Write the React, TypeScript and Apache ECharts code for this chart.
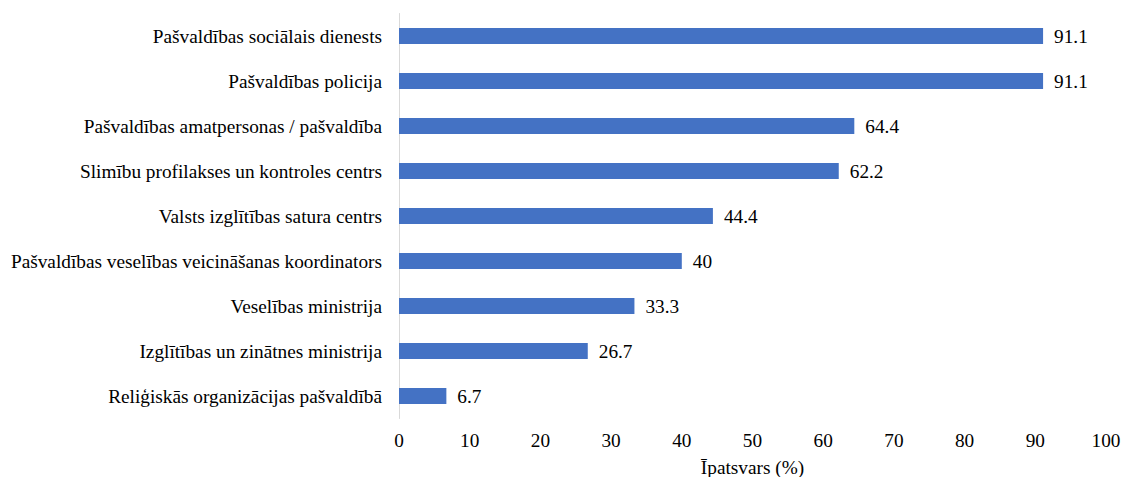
import React, { useEffect, useRef } from "react";
import * as echarts from "echarts";

const categories = [
  "Pašvaldības sociālais dienests",
  "Pašvaldības policija",
  "Pašvaldības amatpersonas / pašvaldība",
  "Slimību profilakses un kontroles centrs",
  "Valsts izglītības satura centrs",
  "Pašvaldības veselības veicināšanas koordinators",
  "Veselības ministrija",
  "Izglītības un zinātnes ministrija",
  "Reliģiskās organizācijas pašvaldībā",
];
const values = [91.1, 91.1, 64.4, 62.2, 44.4, 40, 33.3, 26.7, 6.7];
const axisName = "Īpatsvars (%)";

export default function App() {
  const ref = useRef<HTMLDivElement>(null);
  useEffect(() => {
    document.body.style.margin = "0";
    const chart = echarts.init(ref.current!, null, { renderer: "svg" });
    const font = "Liberation Serif";
    const ts = { fontFamily: font, fontSize: 19.3, color: "#000", fontWeight: "normal" as const };
    chart.setOption({
      animation: false,
      backgroundColor: "#ffffff",
      textStyle: { fontFamily: font },
      grid: { left: 399, right: 18, top: 13.5, bottom: 58.5, containLabel: false, outerBoundsMode: "none" },
      xAxis: {
        type: "value",
        min: 0,
        max: 100,
        interval: 10,
        name: axisName,
        nameLocation: "middle",
        nameGap: 39,
        nameTextStyle: { ...ts },
        axisLine: { show: false },
        axisTick: { show: false },
        splitLine: { show: false },
        axisLabel: { ...ts, margin: 12 },
      },
      yAxis: {
        type: "category",
        data: categories,
        inverse: true,
        axisLine: { show: true, lineStyle: { color: "#d9d9d9", width: 1 } },
        axisTick: { show: false },
        axisLabel: { ...ts, margin: 17 },
      },
      series: [
        {
          type: "bar",
          data: values,
          barWidth: 16,
          itemStyle: { color: "#4472c4" },
          label: {
            show: true,
            position: "right",
            distance: 11,
            ...ts,
          },
        },
      ],
    });
    return () => chart.dispose();
  }, []);
  return <div ref={ref} style={{ width: 1124, height: 477 }} />;
}
